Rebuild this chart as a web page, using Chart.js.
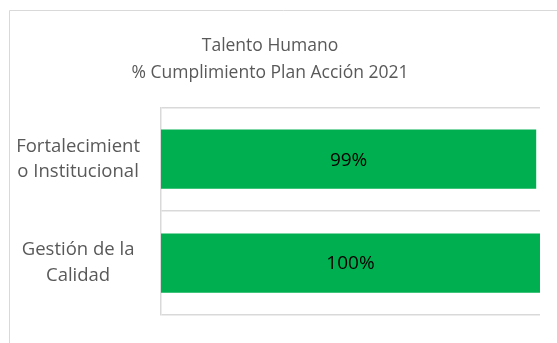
<!DOCTYPE html>
<html>
<head>
<meta charset="utf-8">
<script src="https://cdn.jsdelivr.net/npm/chart.js@4/dist/chart.umd.min.js"></script>
<style>
  html, body { margin: 0; padding: 0; background: #fff; }
  #wrap { position: relative; width: 557px; height: 343px; }
</style>
</head>
<body>
<div id="wrap"><canvas id="chart" width="557" height="343"></canvas></div>
<script>
// Action-plan compliance per process
const categories = [['Fortalecimient', 'o Institucional'], ['Gestión de la', 'Calidad']];
const compliance = [0.99, 1.00];
const titleLines = ['Talento Humano', '% Cumplimiento Plan Acción 2021'];

const FONT = "'Open Sans', 'Noto Sans', sans-serif";

// Light frame around the chart object
const framePlugin = {
  id: 'frame',
  beforeDraw(chart) {
    const ctx = chart.ctx;
    ctx.save();
    ctx.strokeStyle = '#d9d9d9';
    ctx.lineWidth = 1;
    ctx.beginPath();
    ctx.moveTo(9.5, chart.height + 5);
    ctx.lineTo(9.5, 10.5);
    ctx.lineTo(chart.width + 5, 10.5);
    ctx.stroke();
    ctx.restore();
  }
};

// Percentage labels centred in each bar
const valueLabels = {
  id: 'valueLabels',
  afterDatasetsDraw(chart) {
    const ctx = chart.ctx;
    const meta = chart.getDatasetMeta(0);
    ctx.save();
    ctx.font = '19px ' + FONT;
    ctx.fillStyle = '#000';
    ctx.textAlign = 'center';
    ctx.textBaseline = 'middle';
    meta.data.forEach((bar, i) => {
      const v = chart.data.datasets[0].data[i];
      const x = (bar.base + bar.x) / 2;
      ctx.fillText(Math.round(v * 100) + '%', x, bar.y + 1);
    });
    ctx.restore();
  }
};

new Chart(document.getElementById('chart'), {
  type: 'bar',
  data: {
    labels: categories,
    datasets: [{
      data: compliance,
      backgroundColor: '#00B050',
      borderWidth: 0,
      barPercentage: 0.57,
      categoryPercentage: 1.0
    }]
  },
  plugins: [framePlugin, valueLabels],
  options: {
    indexAxis: 'y',
    responsive: false,
    animation: false,
    layout: { padding: { left: 0, right: 17, top: 0, bottom: 28 } },
    plugins: {
      legend: { display: false },
      tooltip: { enabled: false },
      title: {
        display: true,
        text: titleLines,
        color: '#595959',
        font: { family: FONT, size: 17.5, weight: 'normal', lineHeight: 1.55 },
        padding: { top: 32.5, bottom: 20.5 }
      }
    },
    scales: {
      x: { display: false, min: 0, max: 1 },
      y: {
        type: 'category',
        afterFit(scale) {
          scale.width = 161;
          scale.paddingTop = 0;
          scale.paddingBottom = 0;
        },
        grid: { offset: true, color: '#d9d9d9', lineWidth: 1.5, drawTicks: false },
        border: { color: '#d9d9d9', width: 1.5 },
        ticks: {
          color: '#595959',
          crossAlign: 'center',
          padding: 21,
          font: { family: FONT, size: 18.5, lineHeight: 1.4 }
        }
      }
    }
  }
});
</script>
</body>
</html>
